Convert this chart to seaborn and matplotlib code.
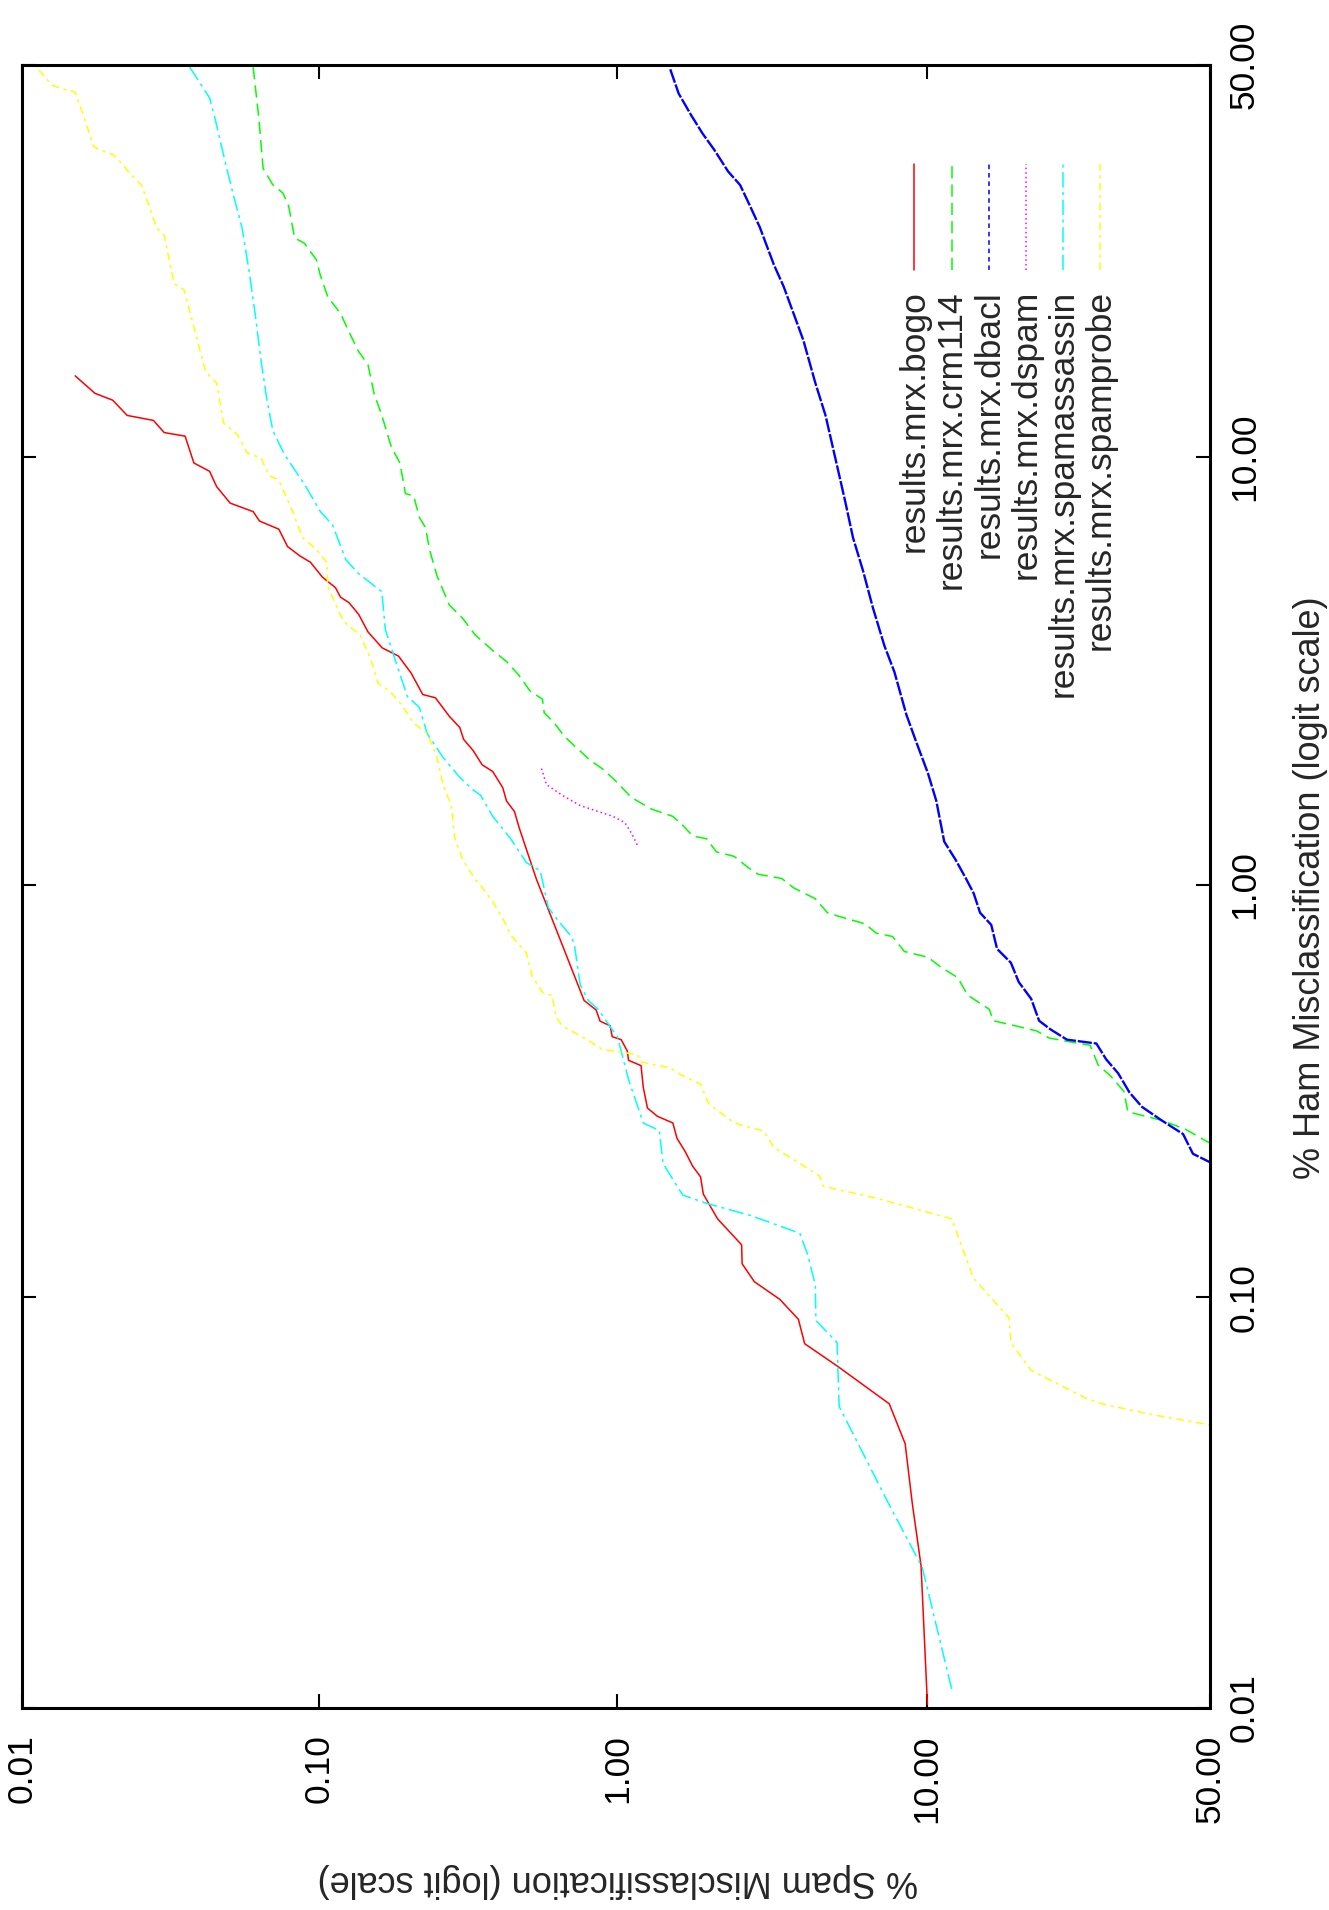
import numpy as np
import matplotlib
matplotlib.use("Agg")
import matplotlib.pyplot as plt
import seaborn as sns
from matplotlib.ticker import FixedLocator, FixedFormatter, NullLocator

# % spam misclassified (x) vs % ham misclassified (y)
bogo_spam = [0.0151, 0.0176, 0.0202, 0.0226, 0.0277, 0.0301, 0.0354, 0.0379, 0.0428, 0.0452,
             0.0502, 0.060, 0.063, 0.0732, 0.0783, 0.0861, 0.0935, 0.1026, 0.1135, 0.118,
             0.126, 0.136, 0.146, 0.163, 0.185, 0.204, 0.223, 0.246, 0.274, 0.297,
             0.306, 0.329, 0.353, 0.383, 0.414, 0.426, 0.453, 0.470, 0.537, 0.775,
             0.85, 0.876, 0.946, 0.962, 1.03, 1.08, 1.09, 1.20, 1.22, 1.26,
             1.36, 1.53, 1.58, 1.68, 1.78, 1.89, 1.93, 2.15, 2.58, 2.59,
             2.84, 3.44, 3.95, 4.14, 5.26, 7.68, 8.6, 9.05, 9.62, 10.06]
bogo_ham = [14.9, 13.7, 13.25, 12.3, 12.0, 11.3, 11.1, 9.7, 9.3, 8.6,
            7.9, 7.56, 7.2, 6.9, 6.3, 6.0, 5.8, 5.36, 5.07, 4.82,
            4.68, 4.39, 4.0, 3.67, 3.51, 3.2, 2.85, 2.80, 2.53, 2.38,
            2.23, 2.10, 1.94, 1.87, 1.71, 1.59, 1.50, 1.37, 1.03, 0.525,
            0.498, 0.468, 0.456, 0.429, 0.422, 0.396, 0.376, 0.365, 0.324, 0.288,
            0.275, 0.265, 0.243, 0.226, 0.208, 0.196, 0.178, 0.155, 0.134, 0.1205,
            0.109, 0.0987, 0.0883, 0.077, 0.068, 0.055, 0.044, 0.0314, 0.0222, 0.0102]

crm_spam = [0.060, 0.0628, 0.0648, 0.0699, 0.0755, 0.079, 0.0827, 0.0893, 0.098, 0.101,
            0.107, 0.118, 0.125, 0.135, 0.146, 0.153, 0.1625, 0.175, 0.187, 0.195,
            0.208, 0.217, 0.228, 0.235, 0.249, 0.274, 0.304, 0.334, 0.383, 0.426,
            0.468, 0.512, 0.562, 0.57, 0.616, 0.665, 0.696, 0.764, 0.81, 0.89,
            0.976, 1.115, 1.30, 1.53, 1.65, 1.78, 1.98, 2.13, 2.44, 2.71,
            2.92, 3.49, 3.81, 4.48, 4.90, 5.35, 6.44, 7.0, 7.86, 8.55,
            10.1, 11.0, 12.4, 13.25, 15.3, 15.7, 18.1, 20.7, 22.3, 24.8,
            28.3, 29.6, 31.6, 33.9, 34.6, 40.7, 45.2, 49.9]
crm_ham = [49.7, 42.3, 35.9, 33.8, 32.8, 31.2, 27.5, 26.9, 25.1, 23.5,
           21.4, 19.9, 18.5, 16.8, 15.7, 13.7, 12.3, 10.5, 9.7, 8.3,
           8.2, 7.35, 6.95, 6.2, 5.4, 4.62, 4.30, 3.94, 3.62, 3.41,
           3.17, 2.90, 2.78, 2.58, 2.44, 2.27, 2.20, 2.07, 1.99, 1.90,
           1.79, 1.62, 1.52, 1.46, 1.39, 1.31, 1.29, 1.20, 1.17, 1.10,
           1.06, 1.035, 0.983, 0.925, 0.856, 0.838, 0.805, 0.764, 0.75, 0.69,
           0.668, 0.634, 0.596, 0.541, 0.50, 0.469, 0.456, 0.443, 0.426, 0.418,
           0.409, 0.366, 0.345, 0.316, 0.282, 0.269, 0.256, 0.237]

dbacl_spam = [1.50, 1.60, 1.76, 1.92, 2.10, 2.33, 2.55, 2.75, 2.96, 3.29,
              3.54, 3.81, 4.10, 4.48, 4.83, 5.19, 5.58, 5.91, 6.35, 6.83,
              7.42, 7.97, 8.68, 9.3, 10.1, 10.7, 11.3, 12.2, 13.1, 13.8,
              14.4, 15.5, 16.1, 17.6, 18.5, 20.0, 21.0, 22.5, 24.8, 29.3,
              30.9, 32.9, 34.9, 37.1, 40.7, 44.8, 46.7, 49.9]
dbacl_ham = [49.4, 46.0, 43.0, 40.5, 38.3, 35.5, 33.8, 31.2, 28.7, 24.6,
             22.4, 19.9, 17.6, 14.4, 12.3, 9.95, 7.98, 6.6, 5.56, 4.55,
             3.71, 3.22, 2.55, 2.20, 1.85, 1.59, 1.27, 1.15, 1.035, 0.953,
             0.856, 0.80, 0.70, 0.648, 0.582, 0.53, 0.469, 0.447, 0.422, 0.413,
             0.378, 0.35, 0.314, 0.29, 0.269, 0.249, 0.223, 0.213]

dspam_spam = [0.558, 0.58, 0.655, 0.752, 0.863, 0.968, 1.06, 1.115, 1.17]
dspam_ham = [1.90, 1.74, 1.64, 1.55, 1.50, 1.46, 1.41, 1.33, 1.24]

sa_spam = [0.0367, 0.0428, 0.0448, 0.0484, 0.0515, 0.055, 0.0581, 0.0609, 0.0638, 0.0667,
           0.0699, 0.0766, 0.0893, 0.101, 0.111, 0.123, 0.135, 0.1625, 0.167, 0.181,
           0.198, 0.217, 0.231, 0.261, 0.295, 0.329, 0.349, 0.383, 0.44, 0.497,
           0.553, 0.588, 0.625, 0.696, 0.718, 0.752, 0.80, 0.863, 0.96, 1.0,
           1.09, 1.22, 1.38, 1.42, 1.65, 1.98, 2.75, 3.99, 4.23, 4.48,
           4.5, 5.26, 5.34, 7.65, 9.7, 11.9]
sa_ham = [49.7, 45.4, 42.3, 36.6, 32.5, 28.7, 24.0, 19.9, 16.0, 13.3,
          11.4, 10.1, 8.7, 7.56, 7.05, 5.88, 5.48, 4.96, 4.05, 3.41,
          2.82, 2.66, 2.30, 2.02, 1.82, 1.69, 1.64, 1.46, 1.29, 1.13,
          1.08, 0.882, 0.83, 0.756, 0.722, 0.573, 0.525, 0.50, 0.447, 0.43,
          0.338, 0.265, 0.254, 0.211, 0.177, 0.169, 0.158, 0.143, 0.127, 0.107,
          0.0877, 0.0775, 0.0542, 0.0314, 0.022, 0.0111]

sp_spam = [0.0114, 0.0126, 0.0136, 0.0151, 0.0157, 0.0165, 0.0174, 0.0181, 0.0195, 0.0203,
           0.0217, 0.0228, 0.0253, 0.0266, 0.0283, 0.0301, 0.0325, 0.0351, 0.0379, 0.0415,
           0.0452, 0.0477, 0.053, 0.0573, 0.0638, 0.0678, 0.0732, 0.0815, 0.088, 0.098,
           0.106, 0.107, 0.116, 0.121, 0.137, 0.148, 0.158, 0.173, 0.189, 0.208,
           0.231, 0.249, 0.261, 0.278, 0.286, 0.304, 0.334, 0.344, 0.383, 0.414,
           0.44, 0.497, 0.52, 0.562, 0.606, 0.625, 0.655, 0.81, 0.89, 1.17,
           1.19, 1.49, 1.65, 1.89, 2.01, 2.44, 3.05, 3.29, 3.81, 4.62,
           4.75, 7.0, 11.9, 12.6, 13.8, 17.4, 17.6, 20.0, 27.7, 30.2,
           39.2, 49.9]
sp_ham = [49.3, 47.2, 46.7, 46.2, 44.2, 41.7, 38.8, 38.4, 37.9, 37.7,
          36.5, 35.5, 33.7, 31.5, 28.7, 27.8, 22.7, 22.1, 18.7, 15.2,
          14.4, 11.85, 11.2, 10.2, 9.95, 9.1, 8.9, 7.56, 6.6, 6.2,
          5.8, 5.1, 4.49, 4.23, 3.94, 3.51, 3.03, 2.90, 2.70, 2.44,
          2.30, 2.02, 1.74, 1.55, 1.29, 1.15, 1.03, 1.01, 0.91, 0.83,
          0.756, 0.683, 0.60, 0.55, 0.54, 0.478, 0.456, 0.418, 0.40, 0.388,
          0.373, 0.361, 0.345, 0.329, 0.295, 0.265, 0.253, 0.231, 0.216, 0.197,
          0.186, 0.174, 0.155, 0.136, 0.111, 0.089, 0.0775, 0.0663, 0.0567, 0.055,
          0.0517, 0.0489]

ticks = [0.01, 0.1, 1, 10, 50]
tick_labels = ["0.01", "0.10", "1.00", "10.00", "50.00"]

sns.set_style("white")
plt.rcParams['font.family'] = ['Liberation Sans', 'DejaVu Sans']


def logit_pct(p):
    p = np.asarray(p, dtype=float) / 100.0
    with np.errstate(divide='ignore', invalid='ignore'):
        return np.log(p / (1 - p))


def inv_logit_pct(z):
    return 100.0 / (1 + np.exp(-np.asarray(z, dtype=float)))


fig = plt.figure(figsize=(13.29, 19.10), dpi=100)
ax = fig.add_axes([22 / 1329, 202 / 1910, 1188 / 1329, 1643 / 1910])

series = [
    ("results.mrx.bogo", bogo_spam, bogo_ham, "#ff0000", "-"),
    ("results.mrx.crm114", crm_spam, crm_ham, "#00ff00", (0, (8, 4))),
    ("results.mrx.dbacl", dbacl_spam, dbacl_ham, "#0000ff", (0, (3, 2.5))),
    ("results.mrx.dspam", dspam_spam, dspam_ham, "#ff00ff", (0, (1, 2))),
    ("results.mrx.spamassassin", sa_spam, sa_ham, "#00ffff", (0, (10, 3, 2, 3))),
    ("results.mrx.spamprobe", sp_spam, sp_ham, "#ffff00", (0, (5, 3, 2, 3))),
]

for name, sx, hy, col, ls in series:
    if name.endswith("dbacl"):
        # dense data: gnuplot's short dashes merge into an almost solid line
        ls_plot, lw = (0, (6, 0.8)), 1.7
    else:
        ls_plot, lw = ls, 1.1
    sns.lineplot(x=sx, y=hy, ax=ax, color=col, linestyle=ls_plot, linewidth=lw,
                 sort=False, estimator=None, legend=False)

ax.set_xscale('function', functions=(logit_pct, inv_logit_pct))
ax.set_yscale('function', functions=(logit_pct, inv_logit_pct))
ax.set_xlim(0.01, 50)
ax.set_ylim(0.01, 50)

for axis in (ax.xaxis, ax.yaxis):
    axis.set_major_locator(FixedLocator(ticks))
    axis.set_major_formatter(FixedFormatter(tick_labels))
    axis.set_minor_locator(NullLocator())

ax.tick_params(axis='both', which='major', direction='in', length=10, width=1.5,
               top=True, bottom=True, left=True, right=True, labelsize=25.5,
               color='black', labelcolor='black')
ax.tick_params(axis='x', labelrotation=90, pad=19)
ax.tick_params(axis='y', labelleft=False, labelright=True, labelrotation=90, pad=13)
for lab in ax.get_yticklabels():
    lab.set_va('center')
ax.set_xlabel("")
ax.set_ylabel("")

for sp in ax.spines.values():
    sp.set_linewidth(2.2)
    sp.set_color('black')

# legend drawn sideways like the rotated gnuplot key
leg_x = np.linspace(0.7512, 0.9076, len(series))
for (name, _, _, col, ls), lx in zip(series, leg_x):
    ax.plot([lx, lx], [0.8752, 0.9397], transform=ax.transAxes, color=col,
            linestyle=ls, linewidth=1.1)
    ax.text(lx, 0.8631, name, transform=ax.transAxes, rotation=90,
            ha='center', va='top', fontsize=25.5)

fig.text(618 / 1329, 1 - 1880 / 1910, "% Spam Misclassification (logit scale)",
         rotation=180, ha='center', va='center', fontsize=26)
fig.text(1310 / 1329, 1 - 888 / 1910, "% Ham Misclassification (logit scale)",
         rotation=90, ha='center', va='center', fontsize=26)

fig.savefig("out.png", dpi=100)
